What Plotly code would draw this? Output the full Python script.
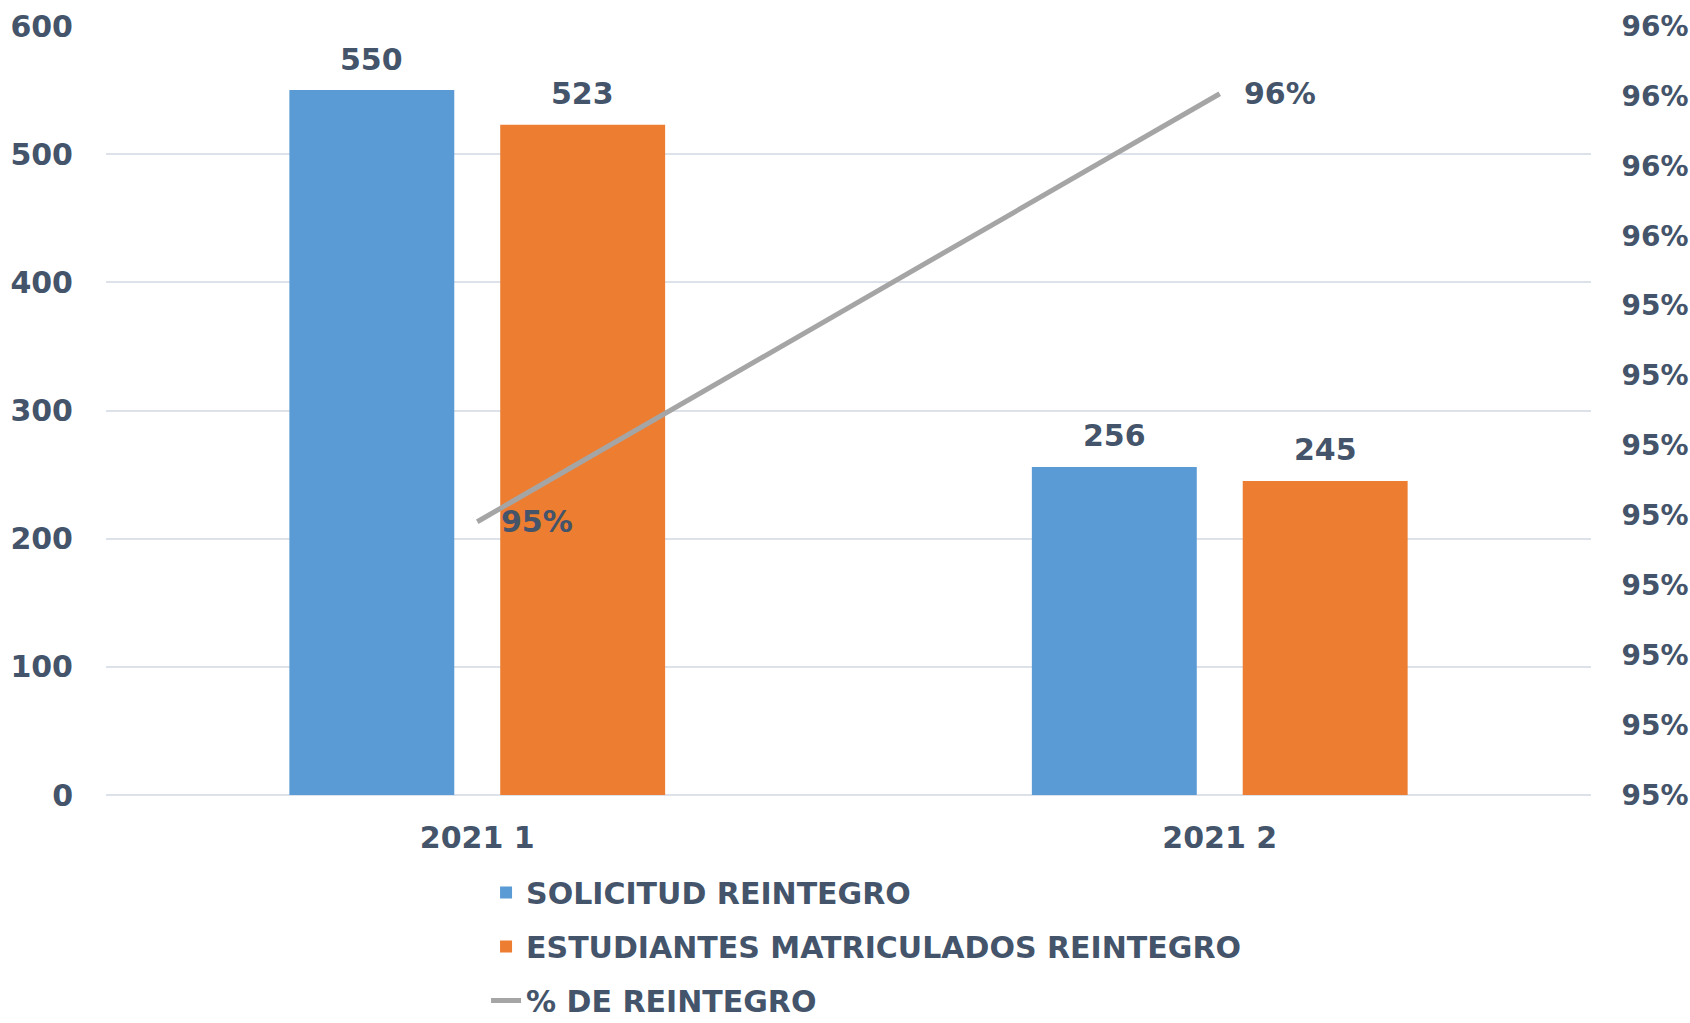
import plotly.graph_objects as go

categories = ["2021 1", "2021 2"]
solicitud = [550, 256]
matriculados = [523, 245]
pct_reintegro = [m / s for m, s in zip(matriculados, solicitud)]

left_ticks = [0, 100, 200, 300, 400, 500, 600]
right_tick_values = [0.947, 0.948, 0.949, 0.950, 0.951, 0.952, 0.953, 0.954, 0.955, 0.956, 0.957, 0.958]
right_tick_labels = ["95%", "95%", "95%", "95%", "95%", "95%", "95%", "95%", "96%", "96%", "96%", "96%"]

TXT = "#44546A"
FONT = "DejaVu Sans"
W, H = 1690, 1023
ML, MR, MT, MB = 106, 99, 26, 228
BARGAP = 0.432

fig = go.Figure()
fig.add_trace(go.Bar(x=categories, y=solicitud, name="SOLICITUD REINTEGRO",
                     marker=dict(color="#5B9BD5", line=dict(width=0)), legendgroup="a"))
fig.add_trace(go.Bar(x=categories, y=matriculados, name="ESTUDIANTES MATRICULADOS REINTEGRO",
                     marker=dict(color="#ED7D31", line=dict(width=0)), legendgroup="b"))
fig.add_trace(go.Scatter(x=categories, y=pct_reintegro, name="% DE REINTEGRO", mode="lines",
                         line=dict(color="#A5A5A5", width=5), yaxis="y2", legendgroup="c"))

cat_px = (W - ML - MR) / len(categories)
slot_shift = (1 - BARGAP) / 4 * cat_px
ann = []
for c, v in zip(categories, solicitud):
    ann.append(dict(x=c, y=v, xref="x", yref="y", text=str(v), showarrow=False,
                    xshift=-slot_shift, yshift=31, yanchor="middle"))
for c, v in zip(categories, matriculados):
    ann.append(dict(x=c, y=v, xref="x", yref="y", text=str(v), showarrow=False,
                    xshift=slot_shift, yshift=31, yanchor="middle"))
for c, v in zip(categories, pct_reintegro):
    ann.append(dict(x=c, y=v, xref="x", yref="y2", text=f"{round(v * 100):d}%", showarrow=False,
                    xshift=22, xanchor="left", yanchor="middle"))

fig.update_layout(
    width=W, height=H, autosize=False,
    margin=dict(l=ML, r=MR, t=MT, b=MB, autoexpand=False),
    paper_bgcolor="white", plot_bgcolor="white",
    font=dict(family=FONT, size=30, color=TXT, weight="bold"),
    barmode="group", bargap=BARGAP, bargroupgap=0.218,
    showlegend=True,
    legend=dict(orientation="v", xref="container", yref="container",
                x=0.2876, xanchor="left", y=0.153, yanchor="top",
                font=dict(size=30, color=TXT, family=FONT, weight="bold"),
                tracegroupgap=12, traceorder="grouped", bgcolor="rgba(0,0,0,0)",
                itemwidth=30),
    annotations=ann,
    xaxis=dict(type="category", showgrid=False, showline=False, zeroline=False,
               ticks="outside", ticklen=16, tickcolor="rgba(0,0,0,0)",
               tickfont=dict(size=30, color=TXT)),
    yaxis=dict(range=[0, 600], tickvals=left_ticks, showgrid=True, gridcolor="#DDE2EA",
               gridwidth=2, zeroline=True, zerolinecolor="#DDE2EA", zerolinewidth=2,
               showline=False, ticks="outside", ticklen=26, tickcolor="rgba(0,0,0,0)",
               tickfont=dict(size=30, color=TXT)),
    yaxis2=dict(range=[0.947, 0.958], overlaying="y", side="right",
                tickvals=right_tick_values, ticktext=right_tick_labels,
                showgrid=False, zeroline=False, showline=False,
                ticks="outside", ticklen=24, tickcolor="rgba(0,0,0,0)",
                tickfont=dict(size=28, color=TXT)),
)

fig.write_html("out.html", config={"displayModeBar": False},
               post_script="document.body.style.margin='0';document.body.style.overflow='hidden';")
